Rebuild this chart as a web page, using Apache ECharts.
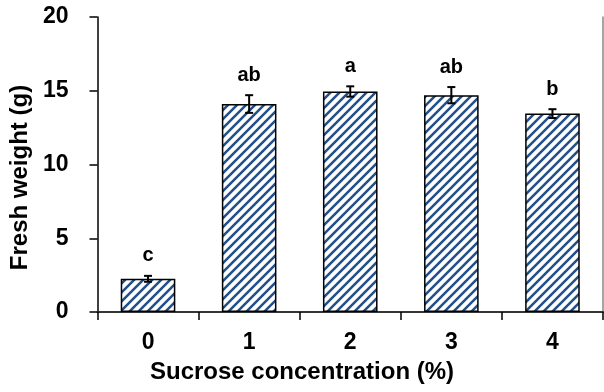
<!DOCTYPE html>
<html>
<head>
<meta charset="utf-8">
<script src="https://cdn.jsdelivr.net/npm/echarts@6/dist/echarts.min.js"></script>
<style>
html,body{margin:0;padding:0;background:#fff;}
#chart{width:604px;height:392px;}
</style>
</head>
<body>
<div id="chart"></div>
<script>
const categories = ['0', '1', '2', '3', '4'];
const freshWeight = [2.25, 14.1, 14.95, 14.7, 13.45];
const errors = [0.2, 0.6, 0.35, 0.55, 0.3];
const letters = ['c', 'ab', 'a', 'ab', 'b'];
const yTicks = [0, 5, 10, 15, 20];

const FONT = '"Liberation Sans", Arial, sans-serif';
const HATCH = '#22508a';

function makeHatch() {
  const s = 9;
  const c = document.createElement('canvas');
  c.width = s; c.height = s;
  const g = c.getContext('2d');
  g.fillStyle = '#ffffff';
  g.fillRect(0, 0, s, s);
  g.strokeStyle = HATCH;
  g.lineWidth = 2.5;
  g.beginPath();
  g.moveTo(-s, 2 * s); g.lineTo(2 * s, -s);
  g.moveTo(-2 * s, 2 * s); g.lineTo(s, -s);
  g.moveTo(0, 2 * s); g.lineTo(3 * s, -s);
  g.stroke();
  return c;
}

const chart = echarts.init(document.getElementById('chart'), null, {renderer: 'canvas'});

const errData = categories.map((c, i) => [i, freshWeight[i], errors[i]]);

chart.setOption({
  animation: false,
  backgroundColor: '#ffffff',
  textStyle: {fontFamily: FONT},
  title: {
    text: 'Sucrose concentration (%)',
    left: 'center',
    top: 360,
    padding: 0,
    textStyle: {fontFamily: FONT, fontSize: 24, fontWeight: 'bold', color: '#000'}
  },
  grid: {left: 97, right: 1, top: 17, bottom: 80, containLabel: false},
  xAxis: [{
    type: 'category',
    data: categories,
    boundaryGap: true,
    axisLine: {show: true, lineStyle: {color: '#000', width: 1.5}},
    axisTick: {show: true, alignWithLabel: false, length: 8, inside: false, lineStyle: {color: '#000', width: 1.5}},
    axisLabel: {margin: 19, fontSize: 23, fontWeight: 'bold', color: '#000', fontFamily: FONT},
    splitLine: {show: false}
  }, {
    type: 'category',
    data: categories,
    position: 'top',
    axisLine: {show: true, lineStyle: {color: '#333', width: 1.5}},
    axisTick: {show: false},
    axisLabel: {show: false},
    splitLine: {show: false}
  }],
  yAxis: [{
    type: 'value',
    min: 0,
    max: 20,
    interval: 5,
    name: 'Fresh weight (g)',
    nameLocation: 'middle',
    nameRotate: 90,
    nameGap: 62,
    nameTextStyle: {fontFamily: FONT, fontSize: 24, fontWeight: 'bold', color: '#000', padding: [0, 26, 0, 0]},
    axisLine: {show: true, lineStyle: {color: '#000', width: 1.5}},
    axisTick: {show: true, length: 8, inside: false, lineStyle: {color: '#000', width: 1.5}},
    axisLabel: {
      margin: 29, fontSize: 23, fontWeight: 'bold', color: '#000', fontFamily: FONT,
      formatter: v => yTicks.includes(v) ? String(v) : ''
    },
    splitLine: {show: false}
  }, {
    type: 'value',
    min: 0,
    max: 20,
    interval: 5,
    position: 'right',
    axisLine: {show: true, lineStyle: {color: '#888', width: 1.5}},
    axisTick: {show: false},
    axisLabel: {show: false},
    splitLine: {show: false}
  }],
  series: [{
    type: 'bar',
    data: freshWeight,
    barWidth: '54%',
    itemStyle: {
      color: {image: makeHatch(), repeat: 'repeat'},
      borderColor: '#000',
      borderWidth: 1.5
    },
    z: 2
  }, {
    type: 'custom',
    data: errData,
    z: 5,
    renderItem: function (params, api) {
      const x = api.value(0);
      const v = api.value(1);
      const e = api.value(2);
      const lab = letters[params.dataIndex];
      const top = api.coord([x, v + e]);
      const bot = api.coord([x, v - e]);
      const cx = top[0];
      const hw = 4;
      const ls = {stroke: '#000', lineWidth: 2};
      return {
        type: 'group',
        children: [
          {type: 'line', shape: {x1: cx, y1: top[1], x2: cx, y2: bot[1]}, style: ls},
          {type: 'line', shape: {x1: cx - hw, y1: top[1], x2: cx + hw, y2: top[1]}, style: ls},
          {type: 'line', shape: {x1: cx - hw, y1: bot[1], x2: cx + hw, y2: bot[1]}, style: ls},
          {type: 'text', x: cx, y: top[1] - 10, style: {
            text: lab, fill: '#000', font: 'bold 20px ' + FONT,
            textAlign: 'center', textVerticalAlign: 'bottom'
          }}
        ]
      };
    }
  }]
});
</script>
</body>
</html>
